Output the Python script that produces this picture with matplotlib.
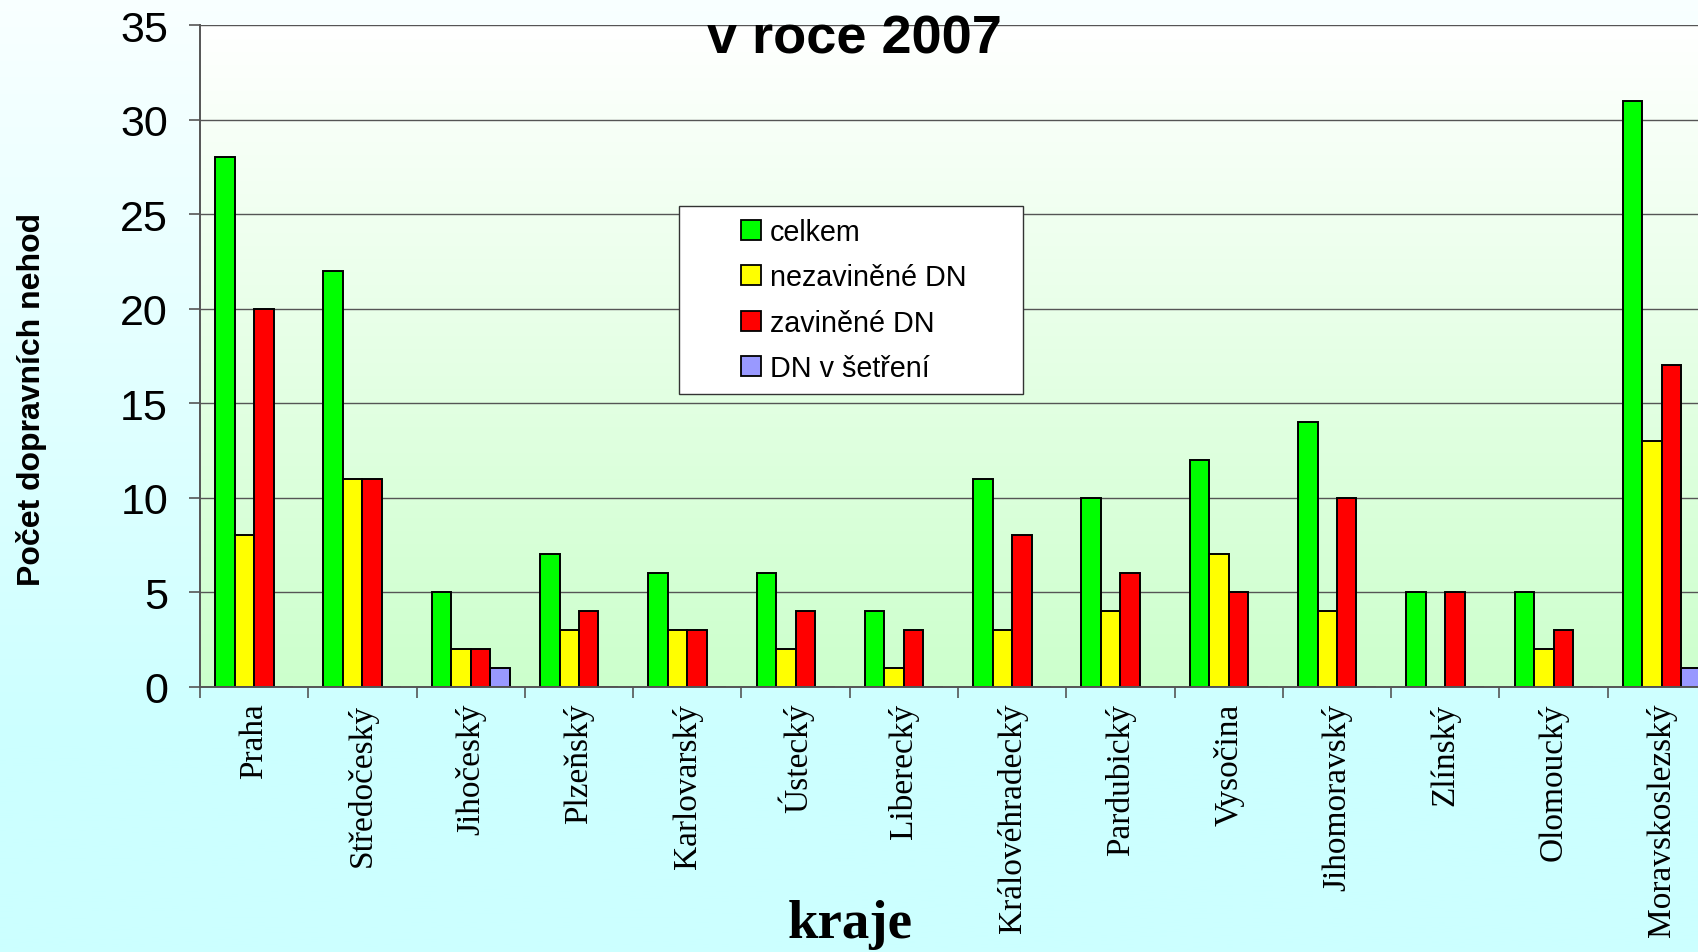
import numpy as np
import matplotlib
matplotlib.use("Agg")
import matplotlib.pyplot as plt
from matplotlib.patches import Patch, Rectangle

# ---- data ----
regions = ["Praha", "Středočeský", "Jihočeský", "Plzeňský", "Karlovarský", "Ústecký",
           "Liberecký", "Královéhradecký", "Pardubický", "Vysočina", "Jihomoravský",
           "Zlínský", "Olomoucký", "Moravskoslezský"]
celkem = [28, 22, 5, 7, 6, 6, 4, 11, 10, 12, 14, 5, 5, 31]
nezavinene = [8, 11, 2, 3, 3, 2, 1, 3, 4, 7, 4, 0, 2, 13]
zavinene = [20, 11, 2, 4, 3, 4, 3, 8, 6, 5, 10, 5, 3, 17]
v_setreni = [0, 0, 1, 0, 0, 0, 0, 0, 0, 0, 0, 0, 0, 1]
series_names = ["celkem", "nezaviněné DN", "zaviněné DN", "DN v šetření"]
series_colors = ["#00ff00", "#ffff00", "#ff0000", "#9999ff"]
yticks = [0, 5, 10, 15, 20, 25, 30, 35]

W, H = 1698, 953
fig = plt.figure(figsize=(W / 100, H / 100), dpi=100)

# figure background gradient
bg = fig.add_axes([0, 0, 1, 1], zorder=-10)
bg.axis("off")
t = np.clip(np.linspace(0, 1, 400) / 0.78, 0, 1)[:, None]
top = np.array([0.975, 1.0, 1.0])
bot = np.array([0.80, 1.0, 1.0])
img = top[None, None, :] * (1 - t[..., None]) + bot[None, None, :] * t[..., None]
bg.imshow(img, aspect="auto", extent=[0, 1, 0, 1])
bg.set_xlim(0, 1); bg.set_ylim(0, 1)

# main axes
left, right = 200 / W, 1716 / W
bottom, topy = 1 - 687.6 / H, 1 - 26 / H
ax = fig.add_axes([left, bottom, right - left, topy - bottom])
ax.set_facecolor("none")
t2 = np.linspace(0, 1, 300)[:, None]
ptop = np.array([1.0, 1.0, 1.0])
pbot = np.array([0.80, 1.0, 0.80])
pimg = ptop[None, None, :] * (1 - t2[..., None]) + pbot[None, None, :] * t2[..., None]
ax.imshow(pimg, aspect="auto", extent=[0, 1, 0, 1], transform=ax.transAxes, zorder=0)

x = np.arange(len(regions))
bw = 0.18
data = [celkem, nezavinene, zavinene, v_setreni]
for i, (vals, c) in enumerate(zip(data, series_colors)):
    ax.bar(x + (i - 1.5) * bw, vals, width=bw, color=c, edgecolor="black",
           linewidth=1.4, zorder=3)

ax.set_xlim(-0.5, len(regions) - 0.5)
ax.set_ylim(0, 35)
ax.set_yticks(yticks)
ax.set_yticklabels([str(v) for v in yticks], fontsize=31, family="Liberation Sans")
ax.tick_params(axis="y", length=8, width=1.2, color="#555555", pad=15)
ax.set_xticks(x)
ax.set_xticklabels(regions, rotation=90, va="top", ha="center",
                   fontsize=24, family="Liberation Serif")
ax.tick_params(axis="x", which="major", length=0, pad=11.5)
ax.set_xticks(np.arange(-0.5, len(regions) + 0.5, 1), minor=True)
ax.tick_params(axis="x", which="minor", length=8, width=1.2, color="#555555")
ax.yaxis.grid(True, color="#555555", linewidth=1.0, zorder=1)
ax.set_axisbelow(False)
for gl in ax.get_ygridlines():
    gl.set_zorder(1)
for s in ["top", "right"]:
    ax.spines[s].set_visible(False)
for s in ["left", "bottom"]:
    ax.spines[s].set_color("#555555")
    ax.spines[s].set_linewidth(1.4)
    ax.spines[s].set_zorder(4)

# texts
fig.text(854 / W, 1 - 54 / H, "v roce 2007", fontsize=39, fontweight="bold",
         family="Liberation Sans", ha="center", va="baseline", zorder=20)
fig.text(32 / W, 1 - 400 / H, "Počet dopravních nehod", fontsize=23, fontweight="bold",
         family="Liberation Sans", rotation=90, ha="center", va="center")
fig.text(850 / W, 1 - 938 / H, "kraje", fontsize=39.5, fontweight="bold",
         family="Liberation Serif", ha="center", va="baseline")

# legend frame + legend
frame = Rectangle((679 / W, 1 - 395 / H), 344 / W, 188 / H, transform=fig.transFigure,
                  facecolor="white", edgecolor="#333333", linewidth=1.0, zorder=8)
fig.patches.append(frame)
handles = [Patch(facecolor=c, edgecolor="black", linewidth=1.3) for c in series_colors]
leg = fig.legend(handles, series_names, loc="upper left",
                 bbox_to_anchor=(721 / W, 1 - 199 / H), frameon=False,
                 prop={"family": "Liberation Sans", "size": 20.7},
                 handlelength=0.69, handleheight=0.69, handletextpad=0.31,
                 labelspacing=0.60, borderpad=0.2)
leg.set_zorder(10)

fig.savefig("out.png", dpi=100)
